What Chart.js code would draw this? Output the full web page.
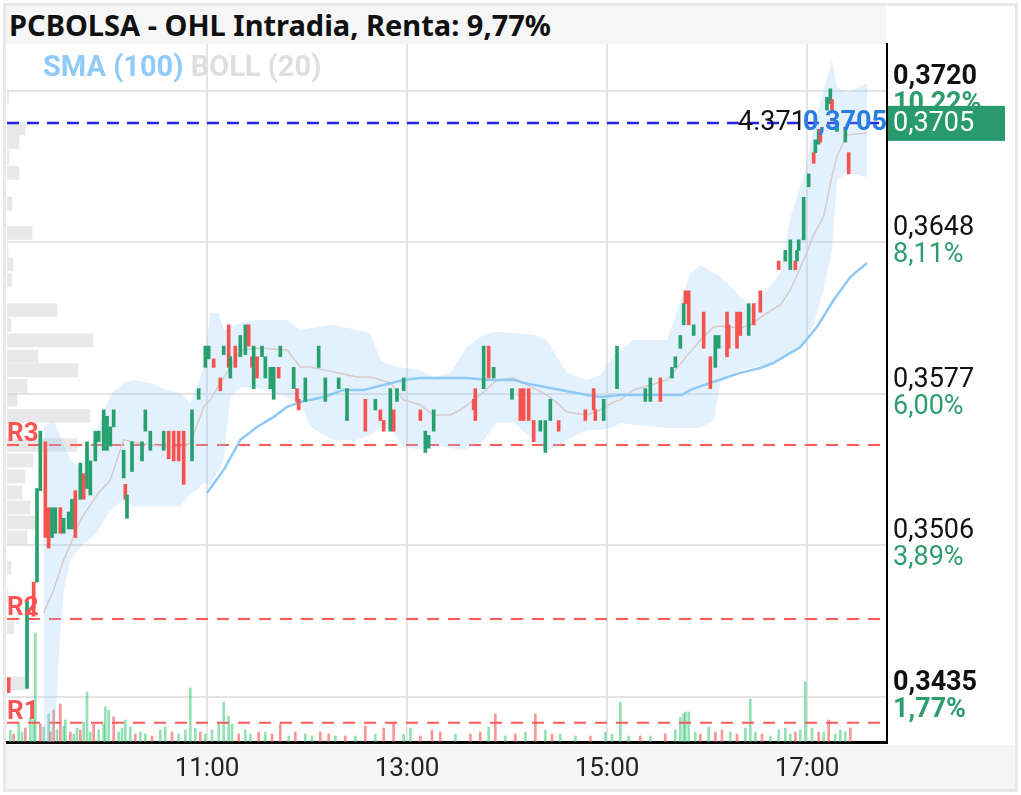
<!DOCTYPE html>
<html>
<head>
<meta charset="utf-8">
<script src="https://cdn.jsdelivr.net/npm/chart.js@4.4.1/dist/chart.umd.min.js"></script>
<style>
  body { margin: 0; background: #fff; }
  #wrap { position: relative; width: 1021px; height: 795px; overflow: hidden; background: #fff; }
  #frame { position: absolute; left: 3px; top: 3px; width: 1009px; height: 783px; border: 3px solid #e8e8e8; }
  #titleBand { position: absolute; left: 6px; top: 6px; width: 880px; height: 38px; background: #f6f6f6; }
  #axisBand { position: absolute; left: 6px; top: 745px; width: 1009px; height: 44px; background: #f5f5f5; }
  #title { position: absolute; left: 9px; top: 5px; height: 38px; line-height: 38px; font: bold 29px "Noto Sans"; color: #111; white-space: nowrap; }
  canvas { position: absolute; left: 0; top: 0; }
</style>
</head>
<body>
<div id="wrap">
  <div id="frame"></div>
  <div id="titleBand"></div>
  <div id="axisBand"></div>
  <div id="title">PCBOLSA - OHL Intradia, Renta: 9,77%</div>
  <canvas id="chart" width="1021" height="795"></canvas>
</div>
<script>
// time in minutes since 09:00
const startHour = 9;
const xMax = 528;
const xTicks = [120, 240, 360, 480];

// price axis
const yMin = 0.34138;
const yMax = 0.37421;
const yTicks = [0.3435, 0.35063, 0.35775, 0.36488, 0.3720];
const yTickLabels = ["0,3435", "0,3506", "0,3577", "0,3648", "0,3720"];
const yPct = ["1,77%", "3,89%", "6,00%", "8,11%", "10,22%"];

const legendNames = ["SMA (100)", "BOLL (20)"];

// candles
const candleTime = [1, 12, 16, 18, 20, 23, 25, 27, 29, 32, 34, 37, 39, 41, 44, 46, 48, 50, 53, 55,
  58, 60, 62, 64, 70, 71, 72, 75, 81, 83, 86, 94, 97, 100, 103, 106, 111, 115, 119, 121,
  124, 128, 130, 133, 134, 137, 140, 143, 145, 147, 148, 150, 153, 155, 158, 160, 163, 164, 172, 174,
  175, 179, 187, 191, 199, 204, 215, 221, 224, 226, 230, 232, 234, 238, 248, 251, 253, 256, 280, 281,
  286, 289, 292, 303, 308, 310, 313, 316, 320, 323, 326, 331, 347, 352, 353, 358, 366, 383, 386, 392,
  399, 401, 404, 406, 407, 409, 412, 418, 422, 425, 427, 432, 433, 438, 440, 445, 448, 452, 463, 467,
  470, 473, 474, 475, 478, 481, 484, 485, 487, 488, 492, 494, 495, 498, 503, 505];
const candleOpen = [0.3444, 0.3439, 0.3489, 0.3489, 0.3532, 0.3555, 0.3524, 0.3510, 0.3512, 0.3524,
  0.3512, 0.3514, 0.3514, 0.3532, 0.3528, 0.3540, 0.3533, 0.3530, 0.3546, 0.3555,
  0.3551, 0.3551, 0.3553, 0.3562, 0.3538, 0.3535, 0.3519, 0.3541, 0.3546, 0.3560,
  0.3551, 0.3551, 0.3560, 0.3560, 0.3560, 0.3560, 0.3546, 0.3575, 0.3590, 0.3594,
  0.3594, 0.3585, 0.3596, 0.3610, 0.3585, 0.3600, 0.3595, 0.3596, 0.3610, 0.3595,
  0.3580, 0.3595, 0.3595, 0.3585, 0.3580, 0.3575, 0.3590, 0.3595, 0.3580, 0.3580,
  0.3575, 0.3574, 0.3590, 0.3574, 0.3580, 0.3565, 0.3575, 0.3570, 0.3570, 0.3565,
  0.3560, 0.3570, 0.3574, 0.3579, 0.3570, 0.3550, 0.3552, 0.3560, 0.3575, 0.3580,
  0.3580, 0.3600, 0.3585, 0.3575, 0.3580, 0.3580, 0.3580, 0.3565, 0.3560, 0.3550,
  0.3565, 0.3565, 0.3570, 0.3580, 0.3570, 0.3565, 0.3580, 0.3574, 0.3574, 0.3585,
  0.3585, 0.3590, 0.3599, 0.3610, 0.3626, 0.3626, 0.3605, 0.3616, 0.3595, 0.3590,
  0.3599, 0.3616, 0.3610, 0.3616, 0.3616, 0.3605, 0.3620, 0.3626, 0.3640, 0.3640,
  0.3636, 0.3640, 0.3640, 0.3645, 0.3650, 0.3675, 0.3691, 0.3691, 0.3695, 0.3702,
  0.3711, 0.3714, 0.3716, 0.3701, 0.3696, 0.3691];
const candleHigh = [0.3446, 0.3482, 0.3490, 0.3536, 0.3563, 0.3560, 0.3527, 0.3526, 0.3526, 0.3525,
  0.3522, 0.3528, 0.3530, 0.3533, 0.3547, 0.3541, 0.3558, 0.3548, 0.3562, 0.3561,
  0.3572, 0.3570, 0.3564, 0.3571, 0.3553, 0.3536, 0.3531, 0.3557, 0.3557, 0.3571,
  0.3561, 0.3562, 0.3561, 0.3561, 0.3561, 0.3561, 0.3572, 0.3581, 0.3602, 0.3601,
  0.3595, 0.3586, 0.3601, 0.3611, 0.3596, 0.3601, 0.3606, 0.3611, 0.3611, 0.3596,
  0.3601, 0.3596, 0.3601, 0.3596, 0.3591, 0.3591, 0.3591, 0.3601, 0.3591, 0.3581,
  0.3576, 0.3586, 0.3601, 0.3586, 0.3586, 0.3581, 0.3576, 0.3576, 0.3571, 0.3566,
  0.3581, 0.3571, 0.3581, 0.3586, 0.3571, 0.3561, 0.3560, 0.3571, 0.3576, 0.3581,
  0.3601, 0.3601, 0.3591, 0.3581, 0.3581, 0.3581, 0.3581, 0.3566, 0.3566, 0.3566,
  0.3576, 0.3566, 0.3571, 0.3581, 0.3571, 0.3576, 0.3601, 0.3581, 0.3586, 0.3586,
  0.3591, 0.3596, 0.3606, 0.3621, 0.3627, 0.3627, 0.3611, 0.3617, 0.3596, 0.3606,
  0.3606, 0.3617, 0.3611, 0.3617, 0.3617, 0.3621, 0.3621, 0.3627, 0.3641, 0.3646,
  0.3651, 0.3641, 0.3646, 0.3651, 0.3671, 0.3682, 0.3692, 0.3698, 0.3703, 0.3703,
  0.3718, 0.3722, 0.3717, 0.3706, 0.3704, 0.3692];
const candleLow = [0.3435, 0.3438, 0.3470, 0.3487, 0.3530, 0.3507, 0.3495, 0.3507, 0.3510, 0.3494,
  0.3510, 0.3489, 0.3512, 0.3508, 0.3526, 0.3526, 0.3531, 0.3528, 0.3544, 0.3554,
  0.3549, 0.3549, 0.3551, 0.3560, 0.3536, 0.3527, 0.3517, 0.3539, 0.3545, 0.3559,
  0.3550, 0.3550, 0.3546, 0.3545, 0.3538, 0.3533, 0.3544, 0.3574, 0.3588, 0.3593,
  0.3589, 0.3578, 0.3595, 0.3589, 0.3584, 0.3589, 0.3594, 0.3595, 0.3599, 0.3589,
  0.3579, 0.3584, 0.3594, 0.3584, 0.3579, 0.3574, 0.3584, 0.3594, 0.3579, 0.3573,
  0.3569, 0.3573, 0.3589, 0.3573, 0.3579, 0.3564, 0.3559, 0.3569, 0.3564, 0.3559,
  0.3559, 0.3559, 0.3573, 0.3578, 0.3564, 0.3549, 0.3549, 0.3559, 0.3565, 0.3564,
  0.3579, 0.3584, 0.3584, 0.3574, 0.3564, 0.3564, 0.3564, 0.3554, 0.3559, 0.3549,
  0.3564, 0.3559, 0.3564, 0.3569, 0.3564, 0.3564, 0.3579, 0.3573, 0.3573, 0.3573,
  0.3584, 0.3589, 0.3598, 0.3609, 0.3619, 0.3609, 0.3604, 0.3598, 0.3579, 0.3589,
  0.3598, 0.3594, 0.3598, 0.3598, 0.3604, 0.3604, 0.3609, 0.3615, 0.3635, 0.3639,
  0.3635, 0.3635, 0.3639, 0.3644, 0.3649, 0.3674, 0.3685, 0.3690, 0.3694, 0.3695,
  0.3710, 0.3713, 0.3709, 0.3700, 0.3695, 0.3680];
const candleClose = [0.3437, 0.3480, 0.3473, 0.3533, 0.3560, 0.3510, 0.3505, 0.3524, 0.3524, 0.3512,
  0.3519, 0.3522, 0.3528, 0.3510, 0.3545, 0.3528, 0.3555, 0.3546, 0.3560, 0.3560,
  0.3570, 0.3567, 0.3562, 0.3570, 0.3551, 0.3528, 0.3530, 0.3555, 0.3555, 0.3570,
  0.3560, 0.3560, 0.3547, 0.3546, 0.3546, 0.3535, 0.3570, 0.3580, 0.3600, 0.3600,
  0.3590, 0.3579, 0.3600, 0.3590, 0.3595, 0.3590, 0.3605, 0.3610, 0.3600, 0.3590,
  0.3600, 0.3585, 0.3600, 0.3595, 0.3590, 0.3590, 0.3585, 0.3600, 0.3590, 0.3574,
  0.3570, 0.3585, 0.3600, 0.3585, 0.3585, 0.3580, 0.3560, 0.3575, 0.3565, 0.3560,
  0.3580, 0.3560, 0.3580, 0.3585, 0.3565, 0.3560, 0.3558, 0.3570, 0.3570, 0.3565,
  0.3600, 0.3585, 0.3590, 0.3580, 0.3565, 0.3565, 0.3565, 0.3555, 0.3565, 0.3565,
  0.3575, 0.3560, 0.3565, 0.3570, 0.3565, 0.3575, 0.3600, 0.3580, 0.3585, 0.3574,
  0.3590, 0.3595, 0.3605, 0.3620, 0.3620, 0.3610, 0.3610, 0.3599, 0.3580, 0.3605,
  0.3605, 0.3595, 0.3599, 0.3599, 0.3605, 0.3620, 0.3610, 0.3616, 0.3636, 0.3645,
  0.3650, 0.3636, 0.3645, 0.3650, 0.3670, 0.3681, 0.3686, 0.3697, 0.3702, 0.3696,
  0.3717, 0.3721, 0.3710, 0.3705, 0.3703, 0.3681];

// SMA (100)
const smaTime = [120, 130, 140, 150, 160, 168, 176, 190, 202, 214, 226, 238, 248, 276, 288, 304,
  310, 326, 348, 356, 368, 405, 410, 422, 440, 452, 460, 476, 486, 496, 506, 516];
const smaValue = [0.35309, 0.35418, 0.35559, 0.35620, 0.35667, 0.35714, 0.35737, 0.35761, 0.35794,
  0.35794, 0.35817, 0.35841, 0.35850, 0.35850, 0.35841, 0.35841, 0.35827, 0.35803, 0.35770,
  0.35761, 0.35770, 0.35770, 0.35794, 0.35827, 0.35874, 0.35897, 0.35921, 0.35996, 0.36090,
  0.36217, 0.36325, 0.36391];

// BOLL (20)
const bollTime = [22, 28, 32, 34, 38, 44, 54, 62, 70, 76, 86, 96, 104, 110, 114, 118, 122, 127, 130,
  134, 140, 150, 168, 176, 182, 196, 210, 218, 224, 230, 238, 248, 256, 266, 272, 276, 286, 294,
  304, 316, 324, 330, 336, 348, 356, 364, 368, 376, 396, 410, 416, 424, 428, 440, 446, 456, 464,
  470, 478, 484, 490, 495, 498, 504, 516];
const bollUpper = [0.35620, 0.35653, 0.35573, 0.35535, 0.35465, 0.35432, 0.35606, 0.35770, 0.35827,
  0.35841, 0.35827, 0.35794, 0.35780, 0.35733, 0.35808, 0.35902, 0.36156, 0.36156, 0.36076,
  0.36090, 0.36109, 0.36123, 0.36123, 0.36076, 0.36085, 0.36100, 0.36076, 0.36062, 0.35935,
  0.35911, 0.35897, 0.35888, 0.35855, 0.35874, 0.35949, 0.35996, 0.36053, 0.36067, 0.36062,
  0.36053, 0.36029, 0.35949, 0.35874, 0.35841, 0.35864, 0.35958, 0.35982, 0.36029, 0.36029,
  0.36344, 0.36382, 0.36344, 0.36330, 0.36231, 0.36184, 0.36264, 0.36344, 0.36607, 0.36796,
  0.37031, 0.37205, 0.37346, 0.37219, 0.37191, 0.37238];
const bollMiddle = [0.34745, 0.34853, 0.34947, 0.34994, 0.35065, 0.35182, 0.35300, 0.35371, 0.35559,
  0.35549, 0.35535, 0.35526, 0.35526, 0.35545, 0.35629, 0.35714, 0.35747, 0.35817, 0.35850,
  0.35902, 0.35982, 0.35991, 0.35982, 0.35902, 0.35902, 0.35878, 0.35855, 0.35855, 0.35841,
  0.35827, 0.35747, 0.35723, 0.35676, 0.35676, 0.35700, 0.35723, 0.35784, 0.35841, 0.35850,
  0.35803, 0.35770, 0.35733, 0.35690, 0.35676, 0.35700, 0.35737, 0.35747, 0.35794, 0.35841,
  0.35973, 0.36029, 0.36090, 0.36095, 0.36085, 0.36100, 0.36156, 0.36194, 0.36264, 0.36405,
  0.36523, 0.36610, 0.36800, 0.36894, 0.36993, 0.37003];
const bollLower = [0.34100, 0.34100, 0.34651, 0.34839, 0.34994, 0.35056, 0.35121, 0.35230, 0.35277,
  0.35244, 0.35244, 0.35244, 0.35244, 0.35309, 0.35324, 0.35357, 0.35347, 0.35418, 0.35465,
  0.35761, 0.35808, 0.35803, 0.35761, 0.35733, 0.35620, 0.35559, 0.35559, 0.35582, 0.35620,
  0.35606, 0.35526, 0.35512, 0.35535, 0.35521, 0.35512, 0.35512, 0.35559, 0.35639, 0.35639,
  0.35559, 0.35512, 0.35526, 0.35559, 0.35606, 0.35606, 0.35620, 0.35639, 0.35629, 0.35615,
  0.35615, 0.35615, 0.35653, 0.35827, 0.35888, 0.35897, 0.35911, 0.35944, 0.35973, 0.36015,
  0.36100, 0.36264, 0.36452, 0.36781, 0.36814, 0.36796];

// volume
const volTime = [2, 4, 7, 9, 11, 14, 16, 17, 20, 22, 25, 26, 28, 30, 32, 34, 35, 38, 40, 42,
  44, 46, 48, 50, 52, 55, 58, 59, 61, 64, 67, 69, 71, 74, 77, 80, 83, 87, 92, 95,
  99, 103, 107, 110, 113, 116, 119, 123, 127, 130, 133, 135, 139, 143, 146, 151, 155, 159, 164, 169,
  173, 179, 183, 188, 193, 197, 203, 209, 215, 221, 226, 232, 238, 242, 248, 255, 260, 269, 278, 284,
  289, 293, 299, 305, 311, 317, 323, 327, 332, 341, 350, 359, 363, 368, 373, 380, 386, 395, 401, 404,
  406, 407, 409, 413, 416, 421, 425, 429, 434, 438, 443, 446, 449, 453, 458, 463, 467, 470, 473, 476,
  479, 483, 487, 490, 493, 497, 500, 503, 506];
const volValue = [1200, 800, 2000, 1000, 1400, 2500, 2200, 10900, 1800, 1500, 2800, 1000, 3200, 1200, 3800, 1600, 2200, 1000, 800, 1400,
  1200, 2000, 5000, 1000, 1800, 1200, 1800, 3500, 3200, 2500, 1000, 1400, 2200, 1500, 800, 1000, 800, 600, 1200, 1500,
  1000, 800, 1200, 5400, 1400, 1000, 800, 1200, 2000, 4000, 2600, 1800, 800, 1200, 800, 1000, 1000, 800, 1800, 600,
  1000, 800, 600, 1000, 800, 600, 600, 600, 1600, 800, 1400, 2000, 800, 1400, 600, 1200, 1000, 800, 800, 1000,
  1500, 2800, 600, 800, 1000, 2800, 1200, 800, 800, 600, 600, 1000, 800, 4000, 600, 600, 600, 800, 1200, 2500,
  2800, 3000, 3000, 1000, 800, 1500, 1000, 1200, 1000, 800, 1400, 4300, 1000, 800, 600, 1200, 1400, 800, 1000, 1200,
  6000, 1400, 1000, 1000, 2200, 800, 1200, 1000, 1400];
const volUp = [1, 0, 1, 1, 0, 1, 1, 1, 0, 1, 1, 0, 0, 1, 0, 1, 1, 0, 1, 1,
  0, 1, 1, 1, 0, 1, 1, 1, 1, 0, 1, 1, 1, 1, 0, 1, 1, 0, 1, 1,
  0, 1, 1, 1, 1, 0, 1, 1, 1, 1, 1, 1, 0, 1, 1, 0, 1, 0, 0, 1,
  0, 1, 1, 0, 0, 1, 0, 1, 0, 1, 0, 0, 1, 1, 0, 0, 0, 1, 0, 0,
  1, 0, 1, 0, 1, 0, 1, 0, 1, 1, 0, 1, 1, 1, 1, 0, 1, 0, 1, 1,
  1, 1, 1, 1, 0, 1, 0, 0, 1, 0, 1, 1, 1, 0, 1, 1, 1, 1, 0, 1,
  1, 1, 0, 1, 0, 1, 1, 1, 0];
const volMax = 69800;

// volume profile (left)
const profilePrice = [0.37174, 0.37024, 0.36960, 0.36887, 0.36815, 0.36671, 0.36532, 0.36448, 0.36384,
  0.36311, 0.36170, 0.36100, 0.36027, 0.35951, 0.35886, 0.35813, 0.35747, 0.35672, 0.35535,
  0.35462, 0.35387, 0.35312, 0.35241, 0.35171, 0.35100, 0.34959, 0.34830, 0.34677, 0.34414];
const profileSize = [1, 10.8, 7.2, 1.2, 7.2, 3, 15, 0.6, 3.6, 3, 30, 2.4, 51.6, 18.6, 42.6, 12, 6,
  49.8, 42, 15.6, 10.8, 9, 13.8, 18, 12, 2.4, 0.6, 4.2, 10.8];

// levels
const levelNames = ["R1", "R2", "R3"];
const levelValues = [0.34228, 0.34717, 0.35535];
const lastPrice = 0.3705;
const lastVolText = "4.371";

const GREEN = "#26a06c";
const RED = "#f6524e";
const fmt = v => v.toFixed(4).replace(".", ",");

const up = candleClose.map((c, i) => c >= candleOpen[i]);
const candleColors = up.map(u => (u ? GREEN : RED));
const flat = (p) => [{ x: 0, y: p }, { x: xMax, y: p }];

const datasets = [
  {
    type: "bar", label: "body", order: 0, stack: "k", barThickness: 3, minBarLength: 2,
    data: candleTime.map((t, i) => ({ x: t, y: [candleOpen[i], candleClose[i]] })),
    backgroundColor: candleColors,
  },
  {
    type: "bar", label: "wick", order: 1, stack: "k", barThickness: 2,
    data: candleTime.map((t, i) => ({ x: t, y: [candleLow[i], candleHigh[i]] })),
    backgroundColor: candleColors,
  },
  {
    type: "line", label: legendNames[0], order: 2,
    data: smaTime.map((t, i) => ({ x: t, y: smaValue[i] })),
    borderColor: "#8ec9f6", borderWidth: 2.5, pointRadius: 0, fill: false,
  },
  {
    type: "line", label: "boll mid", order: 3,
    data: bollTime.map((t, i) => ({ x: t, y: bollMiddle[i] })),
    borderColor: "#d6cac6", borderWidth: 1.5, pointRadius: 0, fill: false,
  },
  {
    type: "line", label: legendNames[1], order: 4,
    data: bollTime.map((t, i) => ({ x: t, y: bollUpper[i] })),
    borderWidth: 0, pointRadius: 0, fill: "+1", backgroundColor: "rgba(144,202,249,0.26)",
  },
  {
    type: "line", label: "boll low", order: 4,
    data: bollTime.map((t, i) => ({ x: t, y: bollLower[i] })),
    borderWidth: 0, pointRadius: 0, fill: false,
  },
];
levelValues.forEach((v, i) => {
  datasets.push({
    type: "line", label: levelNames[i], order: 5, data: flat(v),
    borderColor: "#ff5a5a", borderWidth: 2, borderDash: [12, 9], pointRadius: 0, fill: false,
  });
});
datasets.push({
  type: "line", label: "last", order: 5, data: flat(lastPrice),
  borderColor: "#2323e6", borderWidth: 2.5, borderDash: [12, 8], pointRadius: 0, fill: false,
});
datasets.push({
  type: "bar", label: "volume", order: 6, stack: "k", yAxisID: "yv", barThickness: 2,
  data: volTime.map((t, i) => ({ x: t, y: volValue[i] })),
  backgroundColor: volUp.map(u => (u ? "rgba(60,200,120,0.55)" : "rgba(245,80,80,0.6)")),
});
datasets.push({
  type: "bar", label: "profile", order: 7, stack: "k", indexAxis: "y", barThickness: 13,
  data: profilePrice.map((p, i) => ({ x: profileSize[i], y: p })),
  backgroundColor: "rgba(205,205,205,0.45)",
});

const textPlugin = {
  id: "texts",
  afterDatasetsDraw(chart) {
    const { ctx, chartArea } = chart;
    const y = chart.scales.y;
    ctx.save();
    ctx.textBaseline = "middle";
    ctx.textAlign = "left";
    ctx.font = "bold 29px Roboto";
    ctx.fillStyle = "#90caf9";
    ctx.fillText(legendNames[0], 43, 69);
    const w = ctx.measureText(legendNames[0] + " ").width;
    ctx.fillStyle = "#dedede";
    ctx.fillText(legendNames[1], 43 + w, 69);

    ctx.font = "bold 26px Roboto";
    ctx.fillStyle = "#ff5252";
    ctx.textBaseline = "alphabetic";
    levelNames.forEach((n, i) => {
      ctx.fillText(n, chartArea.left, y.getPixelForValue(levelValues[i]) - 4);
    });

    const py = y.getPixelForValue(lastPrice);
    ctx.textBaseline = "middle";
    ctx.font = "27px Roboto";
    ctx.fillStyle = "#111";
    ctx.fillText(lastVolText, 738, py);
    ctx.font = "bold 27px Roboto";
    ctx.fillStyle = "#2a7de1";
    ctx.textAlign = "right";
    ctx.fillText(fmt(lastPrice), chartArea.right, py);
    ctx.restore();
  },
  afterDraw(chart) {
    const { ctx, chartArea } = chart;
    const y = chart.scales.y;
    ctx.save();
    ctx.textBaseline = "middle";
    ctx.textAlign = "left";
    ctx.fillStyle = "#2e9d6e";
    yTicks.forEach((v, i) => {
      const bold = i === 0 || i === yTicks.length - 1;
      ctx.font = (bold ? "bold " : "") + "27px Roboto";
      ctx.fillText(yPct[i], chartArea.right + 6, y.getPixelForValue(v) + 13);
    });
    const py = y.getPixelForValue(lastPrice);
    ctx.fillStyle = "#289a6e";
    ctx.fillRect(chartArea.right + 1, py - 17, 117, 35);
    ctx.fillStyle = "#fff";
    ctx.font = "27px Roboto";
    ctx.fillText(fmt(lastPrice), chartArea.right + 6, py + 1);
    ctx.restore();
  },
};

new Chart(document.getElementById("chart"), {
  type: "bar",
  data: { datasets },
  plugins: [textPlugin],
  options: {
    responsive: false,
    animation: false,
    devicePixelRatio: 1,
    events: [],
    layout: { padding: { left: 7, top: 44, right: 0, bottom: 0 } },
    plugins: { legend: { display: false }, tooltip: { enabled: false }, title: { display: false } },
    scales: {
      x: {
        type: "linear", min: 0, max: xMax, offset: false,
        grid: { offset: false, color: "#e4e4e4", lineWidth: 2, drawTicks: false },
        border: { color: "#000", width: 3 },
        ticks: {
          padding: 12, color: "#222", font: { family: "Roboto", size: 26 },
          maxRotation: 0,
          callback: v => (startHour + v / 60) + ":00",
        },
        afterBuildTicks: s => { s.ticks = xTicks.map(v => ({ value: v })); },
        afterFit: s => { s.height = 53; },
      },
      y: {
        type: "linear", position: "right", min: yMin, max: yMax, offset: false,
        grid: { offset: false, color: "#e4e4e4", lineWidth: 2, drawTicks: false },
        border: { color: "#000", width: 2 },
        ticks: {
          padding: 6, labelOffset: -14, color: "#111",
          font: ctx => ({ family: "Roboto", size: 27, weight: (ctx.index === 0 || ctx.index === yTicks.length - 1) ? "bold" : "normal" }),
          callback: (v, i) => yTickLabels[i],
        },
        afterBuildTicks: s => { s.ticks = yTicks.map(v => ({ value: v })); },
        afterFit: s => { s.width = 134; },
      },
      yv: { type: "linear", display: false, min: 0, max: volMax },
    },
  },
});
</script>
</body>
</html>
